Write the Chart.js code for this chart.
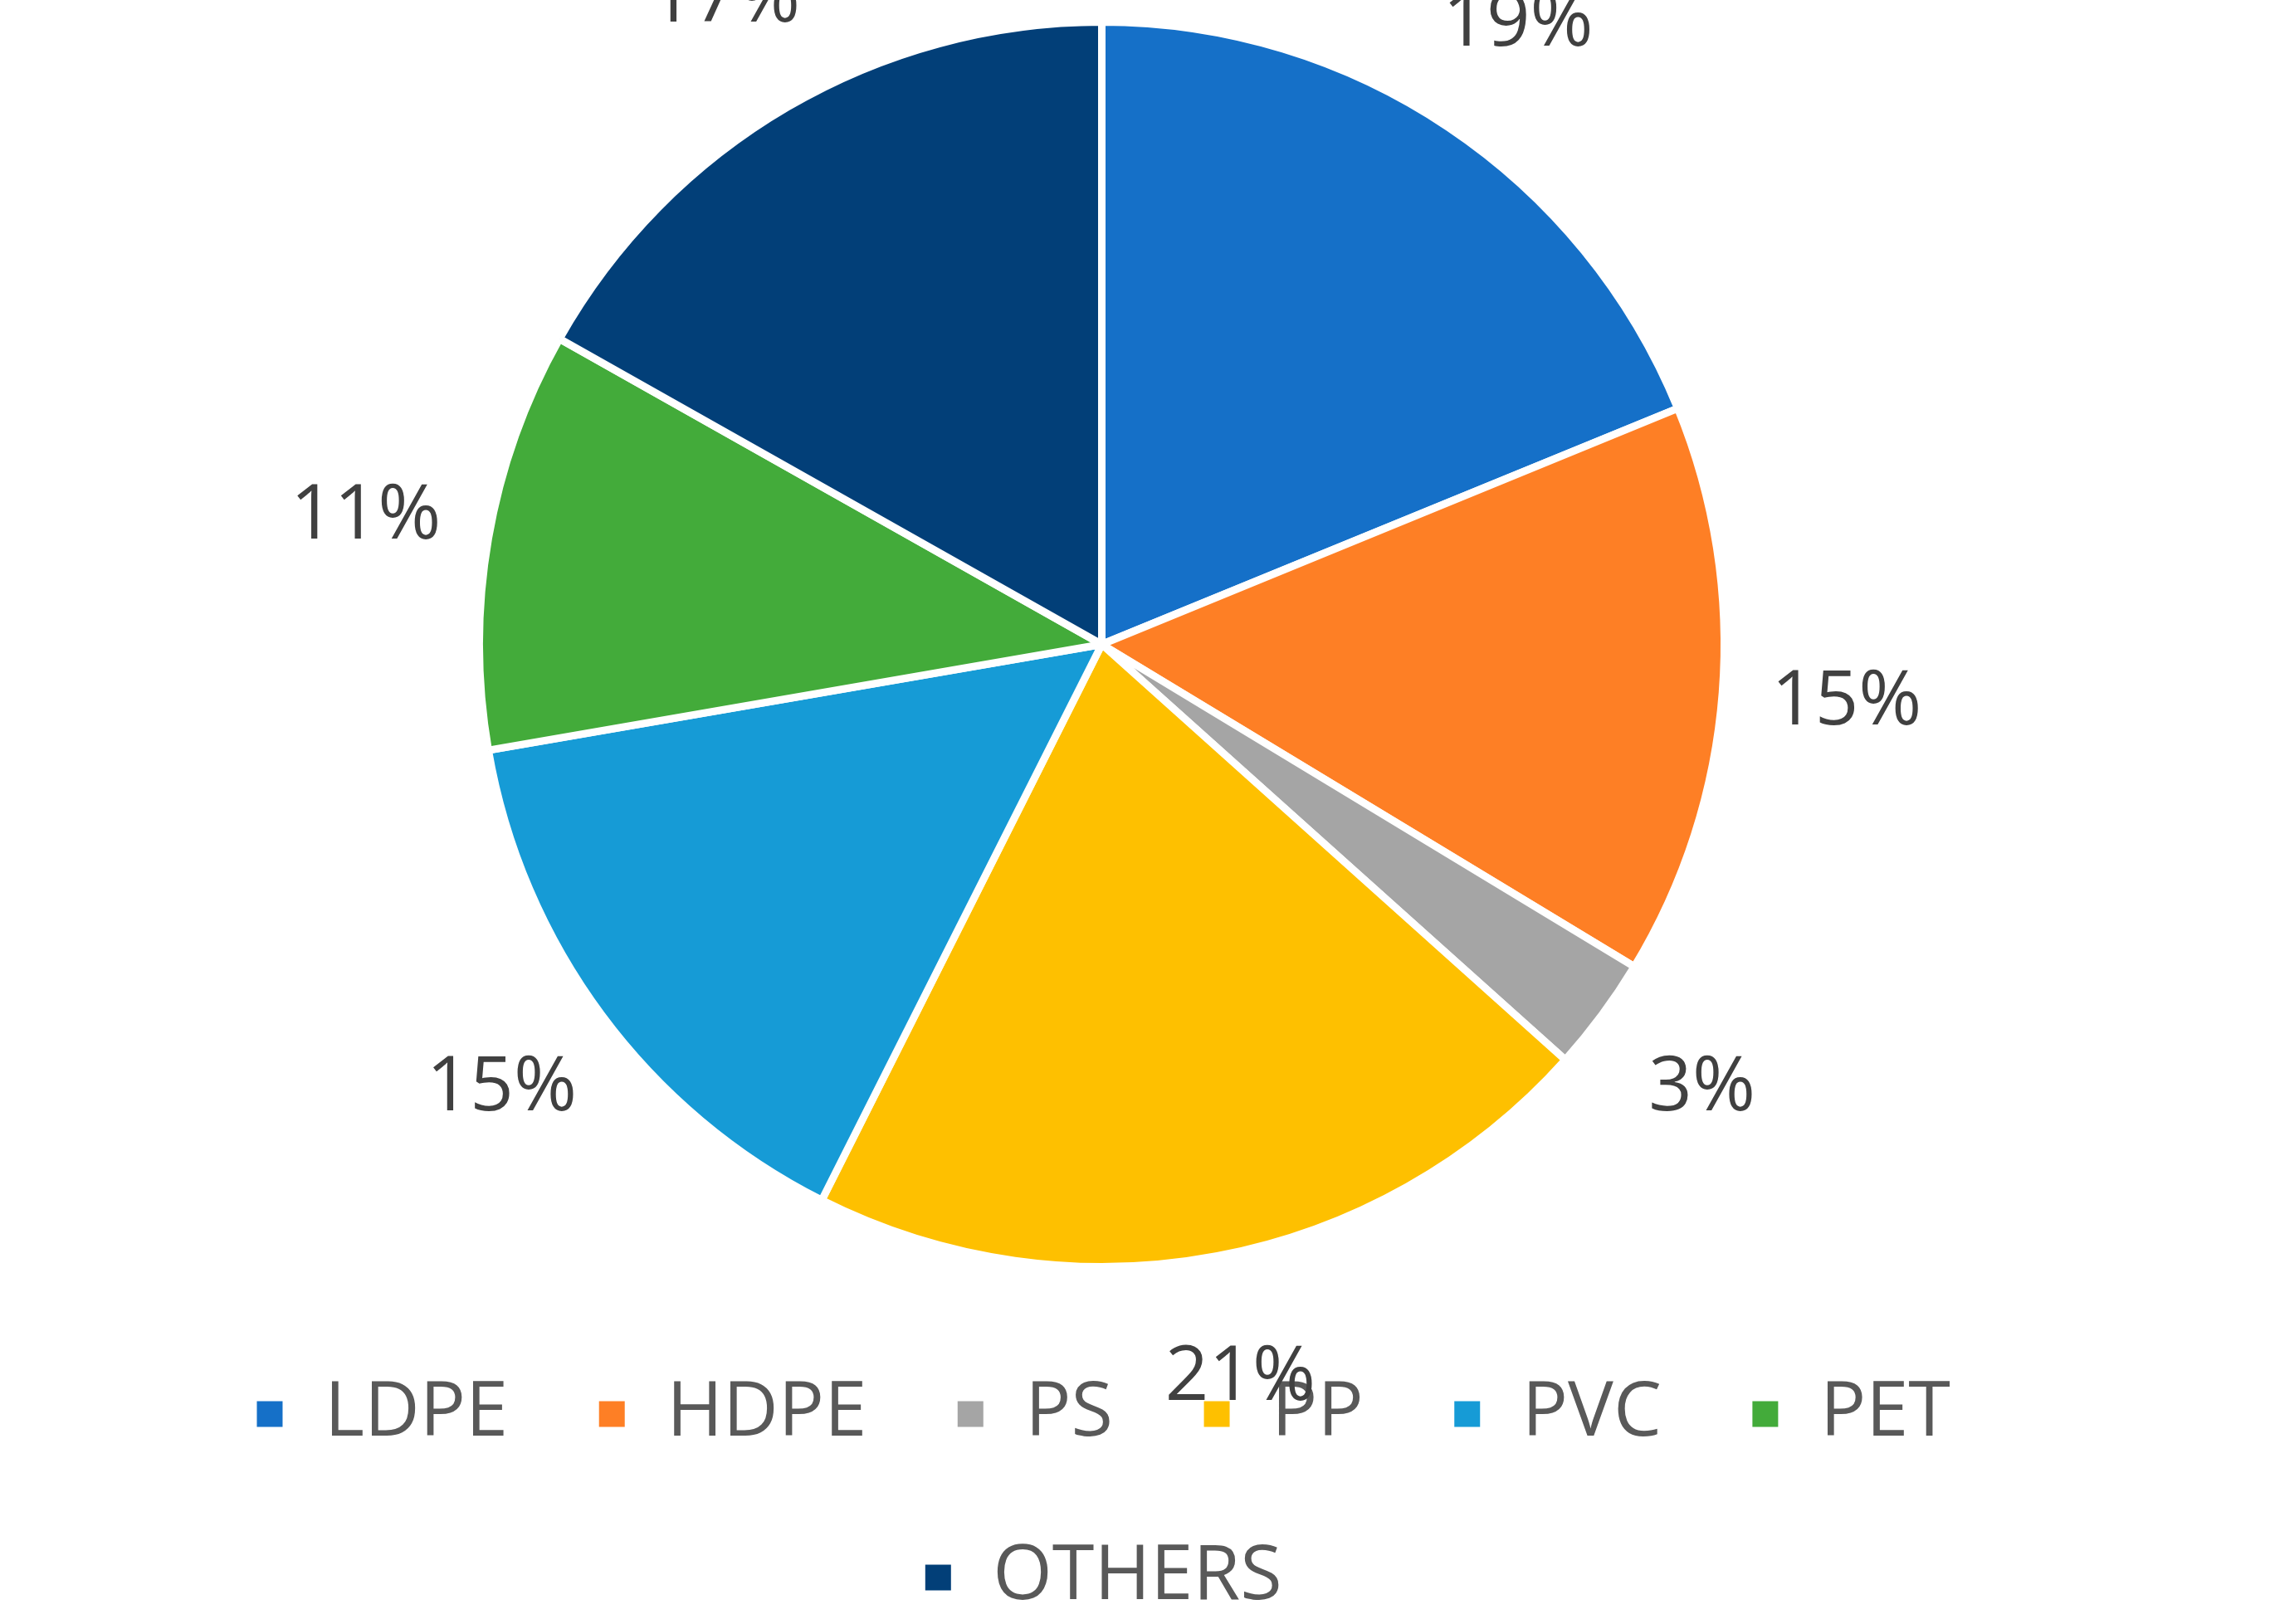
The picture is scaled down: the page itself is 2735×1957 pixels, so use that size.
<!DOCTYPE html>
<html>
<head>
<meta charset="utf-8">
<script src="https://cdn.jsdelivr.net/npm/chart.js@4.4.1/dist/chart.umd.min.js"></script>
<style>
html, body { margin: 0; padding: 0; background: #fff; }
#wrap { width: 2735px; height: 1957px; }
</style>
</head>
<body>
<div id="wrap"><canvas id="pieChart"></canvas></div>
<script>
// data
const categories = ["LDPE", "HDPE", "PS", "PP", "PVC", "PET", "OTHERS"]
const shares = [19, 15, 3, 21, 15, 11, 17]
const colors = ["#1570c8", "#fe7f25", "#a5a5a5", "#fec000", "#169bd6", "#43ab3a", "#023f78"]

// percent labels outside each slice
const outsideLabels = {
    id: "outsideLabels",
    afterDatasetsDraw(chart) {
        const ctx = chart.ctx
        const meta = chart.getDatasetMeta(0)
        ctx.save()
        ctx.font = "92px 'Open Sans', sans-serif"
        ctx.fillStyle = "#404040"
        ctx.textAlign = "center"
        ctx.textBaseline = "middle"
        meta.data.forEach((arc, i) => {
            const mid = (arc.startAngle + arc.endAngle) / 2
            const r = arc.outerRadius * 1.2
            ctx.fillText(shares[i] + "%", arc.x + Math.cos(mid) * r, arc.y + Math.sin(mid) * r)
        })
        ctx.restore()
    }
}

new Chart(document.getElementById("pieChart"), {
    type: "pie",
    data: {
        labels: categories,
        datasets: [{
            data: shares,
            backgroundColor: colors,
            borderColor: "#ffffff",
            borderWidth: 9
        }]
    },
    options: {
        responsive: true,
        maintainAspectRatio: false,
        animation: false,
        radius: 750,
        layout: { padding: { top: -90, right: 80, bottom: 0 } },
        plugins: {
            tooltip: { enabled: false },
            legend: {
                position: "bottom",
                labels: {
                    color: "#595959",
                    font: { size: 92, family: "'Open Sans', sans-serif" },
                    boxWidth: 40,
                    boxHeight: 40,
                    padding: 105
                }
            }
        }
    },
    plugins: [outsideLabels]
})
</script>
</body>
</html>
